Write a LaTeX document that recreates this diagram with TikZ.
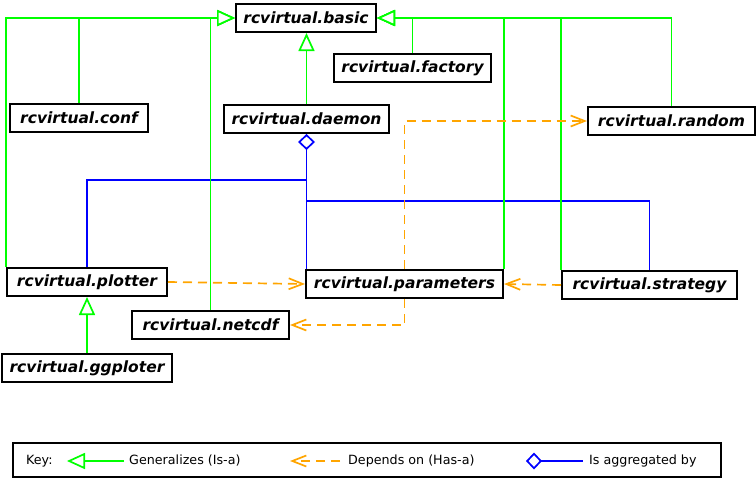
\documentclass[tikz,border=0pt]{standalone}
\usepackage{fontspec}
\setmainfont{DejaVu Sans}
\usetikzlibrary{arrows.meta}
\definecolor{gen}{RGB}{0,255,0}
\definecolor{dep}{RGB}{255,165,0}
\definecolor{agg}{RGB}{0,0,255}
\tikzset{
  cls/.style={draw=black, line width=2pt, fill=white, anchor=north west,
    minimum height=28pt, inner sep=0pt,
    font=\fontsize{15.5}{17}\selectfont\bfseries\itshape},
  genline/.style={draw=gen, line width=1.7pt},
  genarrow/.style={genline, -{Triangle[open, length=18pt, width=16pt, fill=white, line width=1.7pt]}},
  depline/.style={draw=dep, line width=1.7pt, dash pattern=on 9pt off 6pt,
    -{Straight Barb[length=14pt, width=11pt, line width=1.7pt]}},
  aggline/.style={draw=agg, line width=1.7pt},
  diamondstart/.style={{Diamond[open, fill=white, length=16pt, width=17pt, line width=1.7pt]}-},
  keytext/.style={anchor=west, inner sep=0pt, font=\fontsize{12.7}{14}\selectfont},
}
\begin{document}
\begin{tikzpicture}[x=1pt, y=-1pt]
\useasboundingbox (0,0) rectangle (756,493);
% classes
\node[cls, minimum width=140pt] (basic) at (235,3) {rcvirtual.basic};
\node[cls, minimum width=157pt] (factory) at (333,53) {rcvirtual.factory};
\node[cls, minimum width=138pt] (conf) at (9,103) {rcvirtual.conf};
\node[cls, minimum width=165pt] (daemon) at (223,104) {rcvirtual.daemon};
\node[cls, minimum width=167pt] (random) at (587,106) {rcvirtual.random};
\node[cls, minimum width=160pt] (plotter) at (6,267) {rcvirtual.plotter};
\node[cls, minimum width=197pt] (params) at (305,269) {rcvirtual.parameters};
\node[cls, minimum width=175pt] (strategy) at (561,270) {rcvirtual.strategy};
\node[cls, minimum width=157pt] (netcdf) at (131,310) {rcvirtual.netcdf};
\node[cls, minimum width=170pt] (ggploter) at (1,353) {rcvirtual.ggploter};
% aggregation
\coordinate (j1) at (305,180);
\coordinate (j2) at (305,201);
\draw[aggline] (daemon.south) -- (daemon.south |- j1) -| (plotter.north);
\draw[aggline] (daemon.south) -- (daemon.south |- j2) -| (strategy.north);
\draw[aggline, diamondstart] (daemon.south) -- (daemon.south |- params.north);
% generalization
\draw[genarrow] (plotter.north west) |- (basic.west);
\draw[genarrow] (conf.north) |- (basic.west);
\draw[genarrow] (netcdf.north) |- (basic.west);
\draw[genarrow] (factory.north) |- (basic.east);
\draw[genarrow] (params.north east) |- (basic.east);
\draw[genarrow] (strategy.north west) |- (basic.east);
\draw[genarrow] (random.north) |- (basic.east);
\draw[genarrow] (daemon.north) -- (daemon.north |- basic.south);
\draw[genarrow] (ggploter.north) -- (plotter.south);
% dependencies
\draw[depline] (plotter.east) -- (params.west);
\draw[depline] (strategy.west) -- (params.east);
\draw[depline] (params.north) |- (random.west);
\draw[depline] (params.south) |- (netcdf.east);
% legend
\node[draw=black, line width=1.5pt, anchor=north west, minimum width=708pt, minimum height=34pt, inner sep=0pt] (legend) at (12,442) {};
\node[keytext] (key) at (26,461) {Key:};
\coordinate (g1) at (124,461); \coordinate (g2) at (67,461);
\draw[genarrow] (g1) -- (g2);
\node[keytext] (gtext) at (129,461) {Generalizes (Is-a)};
\coordinate (o1) at (340,461); \coordinate (o2) at (290,461);
\draw[depline] (o1) -- (o2);
\node[keytext] (otext) at (348,461) {Depends on (Has-a)};
\coordinate (b1) at (526,461); \coordinate (b2) at (583,461);
\draw[aggline, diamondstart] (b1) -- (b2);
\node[keytext] (btext) at (589,461) {Is aggregated by};
\end{tikzpicture}
\end{document}
